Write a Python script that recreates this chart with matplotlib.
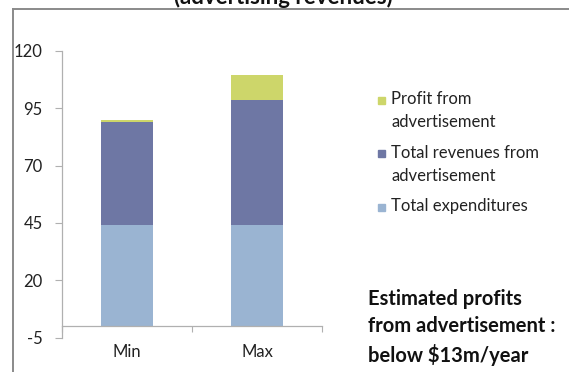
import matplotlib
matplotlib.use("Agg")
import matplotlib.pyplot as plt
from matplotlib.lines import Line2D
from matplotlib.patches import Rectangle

plt.rcParams["font.family"] = ["Lato", "DejaVu Sans"]
plt.rcParams["axes.unicode_minus"] = False

categories = ["Min", "Max"]
expenditures = [44, 44]
revenues = [45, 54.5]
profit = [0.7, 10.9]

series_labels = ["Profit from\nadvertisement",
                 "Total revenues from\nadvertisement",
                 "Total expenditures"]
colors = {"profit": "#cdd66a", "revenues": "#6e77a4", "expend": "#9ab4d2"}
yticks = [-5, 20, 45, 70, 95, 120]
note = "Estimated profits\nfrom advertisement :\nbelow $13m/year"
title = "(advertising revenues)"

W, H = 569, 372
fig = plt.figure(figsize=(W / 100, H / 100), dpi=100)
ax = fig.add_axes([62 / W, 34.3 / H, 260 / W, 287 / H])

x = list(range(len(categories)))
base2 = [e + r for e, r in zip(expenditures, revenues)]
ax.bar(x, expenditures, width=0.4, color=colors["expend"])
ax.bar(x, revenues, width=0.4, bottom=expenditures, color=colors["revenues"])
ax.bar(x, profit, width=0.4, bottom=base2, color=colors["profit"])

ax.set_xlim(-0.5, 1.5)
ax.set_ylim(-5, 120)
ax.set_yticks(yticks)
ax.set_xticks(x, categories)
ax.set_xticks([-0.5, 0.5, 1.5], minor=True)

for s in ["top", "right"]:
    ax.spines[s].set_visible(False)
ax.spines["bottom"].set_position(("data", 0))
for s in ["left", "bottom"]:
    ax.spines[s].set_color("#b0b0b0")
    ax.spines[s].set_linewidth(0.9)

ax.tick_params(axis="y", direction="out", length=5, width=0.8, color="#b0b0b0",
               pad=9, labelsize=12, labelcolor="#222222")
ax.tick_params(axis="x", which="major", length=0, pad=13, labelsize=12,
               labelcolor="#222222")
ax.tick_params(axis="x", which="minor", direction="out", length=4, width=0.8,
               color="#b0b0b0")

# legend laid out by hand so each swatch sits on the first text line
legend_items = [(series_labels[0], colors["profit"], 100),
                (series_labels[1], colors["revenues"], 154),
                (series_labels[2], colors["expend"], 207)]
for label, c, ypix in legend_items:
    fig.patches.append(Rectangle((378 / W, 1 - (ypix + 3.5) / H), 7 / W, 7 / H,
                                 transform=fig.transFigure, color=c))
    fig.text(391 / W, 1 - (ypix - 9) / H, label, fontsize=12, color="#222222",
             va="top", ha="left", linespacing=1.55)

fig.text(368 / W, 1 - 289 / H, note, fontsize=14.5, fontweight="bold",
         color="#111111", va="top", ha="left", linespacing=1.45)

fig.text(283 / W, 1 - 4 / H, title, fontsize=16, fontweight="bold",
         color="#111111", ha="center", va="baseline")

# outer frame lines
fig.add_artist(Line2D([13 / W, 1], [1 - 9 / H, 1 - 9 / H], transform=fig.transFigure,
                      color="#8a8a8a", lw=1.4))
fig.add_artist(Line2D([13 / W, 13 / W], [0, 1 - 9 / H], transform=fig.transFigure,
                      color="#8a8a8a", lw=1.4))

fig.savefig("out.png", dpi=100)
